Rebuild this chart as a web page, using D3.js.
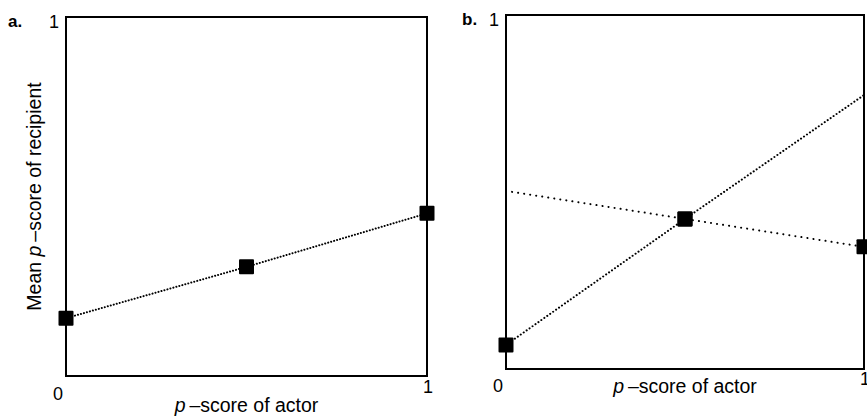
<!DOCTYPE html>
<html>
<head>
<meta charset="utf-8">
<script src="https://cdn.jsdelivr.net/npm/d3@7"></script>
<style>
  body { margin: 0; background: #fff; }
  svg { display: block; }
  text { font-family: "Liberation Sans", Arial, sans-serif; fill: #000; }
</style>
</head>
<body>
<svg id="chart" width="867" height="418"></svg>
<script>
// Data
var actorScores = [0, 0.5, 1];
var meanA = [0.161, 0.304, 0.453];
var risingB = [0.068, 0.424, 0.774];
var fallingB = [0.503, 0.424, 0.345];
var risingMarked = [true, true, false];
var fallingMarked = [false, true, true];
var tickLabels = ["0", "1"];

var svg = d3.select("#chart");

// one panel = box + labels, returns scales
var drawPanel = function(p) {
    var x = d3.scaleLinear().domain([0, 1]).range([p.left, p.right]);
    var y = d3.scaleLinear().domain([0, 1]).range([p.bottom, p.top]);

    var g = svg.append("g").attr("class", "panel");

    g.append("rect")
     .attr("x", p.left).attr("y", p.top)
     .attr("width", p.right - p.left).attr("height", p.bottom - p.top)
     .style("fill", "none").style("stroke", "#000").style("stroke-width", 2);

    // panel letter
    g.append("text")
     .attr("x", p.letterX).attr("y", y(1) + 10)
     .style("font-size", "17px").style("font-weight", "bold")
     .text(p.letter);

    // tick labels
    g.append("text")
     .attr("x", x(0) - 7).attr("y", y(1) + 11)
     .attr("text-anchor", "end").style("font-size", "18px")
     .text(tickLabels[1]);
    g.append("text")
     .attr("x", x(0) - 8).attr("y", y(0) + p.tickDy)
     .attr("text-anchor", "middle").style("font-size", "18px")
     .text(tickLabels[0]);
    g.append("text")
     .attr("x", x(1) + 1).attr("y", y(0) + p.tickDy - 7)
     .attr("text-anchor", "middle").style("font-size", "18px")
     .text(tickLabels[1]);

    // x title
    var xt = g.append("text")
     .attr("x", x(0.5)).attr("y", y(0) + p.titleDy)
     .attr("text-anchor", "middle").style("font-size", "19.5px");
    xt.append("tspan").style("font-style", "italic").text("p");
    xt.append("tspan").text("\u2009\u2013score of actor");

    return { x: x, y: y, g: g };
};

var drawSeries = function(panel, values, marked, dash) {
    var pts = actorScores.map(function(a, i) { return { a: a, v: values[i], m: marked[i] }; });
    var line = d3.line()
        .x(function(d) { return panel.x(d.a); })
        .y(function(d) { return panel.y(d.v); });

    panel.g.append("path")
        .datum(pts)
        .attr("d", line)
        .style("fill", "none")
        .style("stroke", "#000")
        .style("stroke-width", 2)
        .style("stroke-linecap", "round")
        .style("stroke-dasharray", dash);

    var s = 15;
    panel.g.selectAll(null)
        .data(pts.filter(function(d) { return d.m; }))
        .enter().append("rect")
        .attr("x", function(d) { return panel.x(d.a) - s / 2; })
        .attr("y", function(d) { return panel.y(d.v) - s / 2; })
        .attr("width", s).attr("height", s)
        .attr("rx", 1)
        .style("fill", "#000");
};

// Panel a
var pa = drawPanel({ left: 66, right: 427, top: 17, bottom: 376, letter: "a.", letterX: 8, tickDy: 24, titleDy: 36 });
pa.g.append("text")
  .attr("transform", "translate(41," + pa.y(0.5) + ") rotate(-90)")
  .attr("text-anchor", "middle").style("font-size", "19.5px")
  .call(function(t) {
      t.append("tspan").text("Mean ");
      t.append("tspan").style("font-style", "italic").text("p");
      t.append("tspan").text("\u2009\u2013score of recipient");
  });
drawSeries(pa, meanA, [true, true, true], "0.1,3");

// Panel b
var pb = drawPanel({ left: 506, right: 864, top: 15, bottom: 369, letter: "b.", letterX: 462, tickDy: 23, titleDy: 24 });
drawSeries(pb, risingB, risingMarked, "0.1,3.5");
drawSeries(pb, fallingB, fallingMarked, "0.1,6");
</script>
</body>
</html>
